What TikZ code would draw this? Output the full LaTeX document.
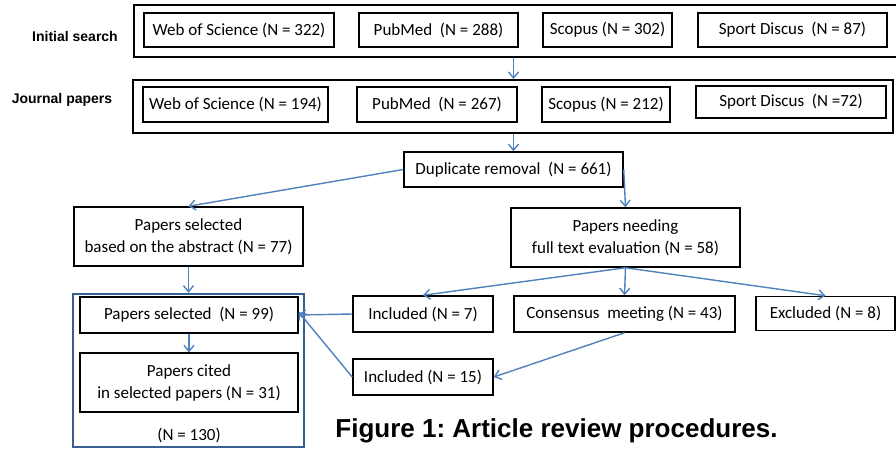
\documentclass[tikz,border=0pt]{standalone}
\usepackage{fontspec}
\setmainfont{Carlito}
\newfontfamily\arialfont{Liberation Sans}
\usetikzlibrary{arrows.meta}
\definecolor{arrowblue}{RGB}{79,129,189}
\definecolor{boxblue}{RGB}{55,96,146}
\frenchspacing

\begin{document}
\begin{tikzpicture}[x=1pt,y=-1pt,
  box/.style={draw,line width=1.5pt,inner sep=0pt,minimum height=35pt,align=center,font=\fontsize{17}{22}\selectfont},
  outer/.style={draw,line width=2pt,inner sep=0pt},
  rowlabel/.style={font=\arialfont\bfseries\fontsize{14}{16}\selectfont},
  flow/.style={draw=arrowblue,line width=1.4pt,-{Straight Barb[length=6pt,width=10pt]}}]
  \useasboundingbox (0,0) rectangle (896,448);
  % initial search
  \node[outer,minimum width=770pt,minimum height=52pt] (search) at (519,31) {};
  \node[rowlabel] (lsearch) at (75,36) {Initial search};
  \node[box,minimum width=190pt,minimum height=34pt] (wos1) at (239,30) {Web of Science (N = 322)};
  \node[box,minimum width=159pt,minimum height=34pt] (pm1) at (438.5,30) {PubMed\ \ (N = 288)};
  \node[box,minimum width=129pt,minimum height=34pt] (sc1) at (607.5,30) {Scopus (N = 302)};
  \node[box,minimum width=189pt,minimum height=34pt] (sd1) at (792.5,30) {Sport Discus\ \ (N = 87)};
  % journal papers
  \node[outer,minimum width=760pt,minimum height=53pt] (journal) at (513,106.5) {};
  \node[rowlabel] (ljournal) at (62,100) {Journal papers};
  \node[box,minimum width=185pt] (wos2) at (235.5,104.5) {Web of Science (N = 194)};
  \node[box,minimum width=160pt] (pm2) at (437,104.5) {PubMed\ \ (N = 267)};
  \node[box,minimum width=128pt] (sc2) at (606,104.5) {Scopus (N = 212)};
  \node[box,minimum width=190pt,minimum height=32pt] (sd2) at (791,102) {Sport Discus\ \ (N =72)};
  % screening
  \node[box,minimum width=219pt] (dup) at (513.5,169.5) {Duplicate removal\ \ (N = 661)};
  \node[box,minimum width=229pt,minimum height=59pt] (abstract) at (188.5,236.5) {Papers selected\\based on the abstract (N = 77)};
  \node[box,minimum width=229pt,minimum height=59pt] (fulltext) at (625.5,237.5) {Papers needing\\full text evaluation (N = 58)};
  \node[box,minimum width=140pt,minimum height=36pt] (inc7) at (423,314) {Included (N = 7)};
  \node[box,minimum width=221pt,minimum height=36pt] (consensus) at (624.5,314) {Consensus\ \ meeting (N = 43)};
  \node[box,minimum width=139pt,minimum height=34pt] (excl) at (825.5,313.5) {Excluded (N = 8)};
  \node[box,minimum width=140pt,minimum height=36pt] (inc15) at (423,377) {Included (N = 15)};
  % selected papers
  \node[draw=boxblue,line width=2.5pt,minimum width=231pt,minimum height=153pt,inner sep=0pt] (total) at (188.5,370.5) {};
  \node[box,line width=1.2pt,minimum width=218pt,minimum height=36pt] (sel) at (189,315) {Papers selected\ \ (N = 99)};
  \node[box,line width=1.2pt,minimum width=218pt,minimum height=59pt] (cited) at (189,382.5) {Papers cited\\in selected papers (N = 31)};
  \node[font=\fontsize{17}{20}\selectfont] (n130) at (189,435) {(N = 130)};
  \node[font=\arialfont\bfseries\fontsize{26}{29}\selectfont] (caption) at (556.5,431) {Figure 1: Article review procedures.};
  % arrows
  \draw[flow] (search.south -| dup) -- (journal.north -| dup);
  \draw[flow] (journal.south -| dup) -- (dup.north);
  \draw[flow] (dup.west) -- (abstract.north);
  \draw[flow] (dup.east) -- (fulltext.north);
  \draw[flow] (fulltext.south) -- (inc7.north);
  \draw[flow] (fulltext.south) -- (consensus.north);
  \draw[flow] (fulltext.south) -- (excl.north);
  \draw[flow] (consensus.south) -- (inc15.east);
  \draw[flow] (abstract.south) -- (total.north);
  \draw[flow] (sel.south) -- (cited.north);
  \draw[flow] (inc7.west) -- (sel.east);
  \draw[flow] (inc15.west) -- ([yshift=3pt]sel.east);
\end{tikzpicture}
\end{document}
